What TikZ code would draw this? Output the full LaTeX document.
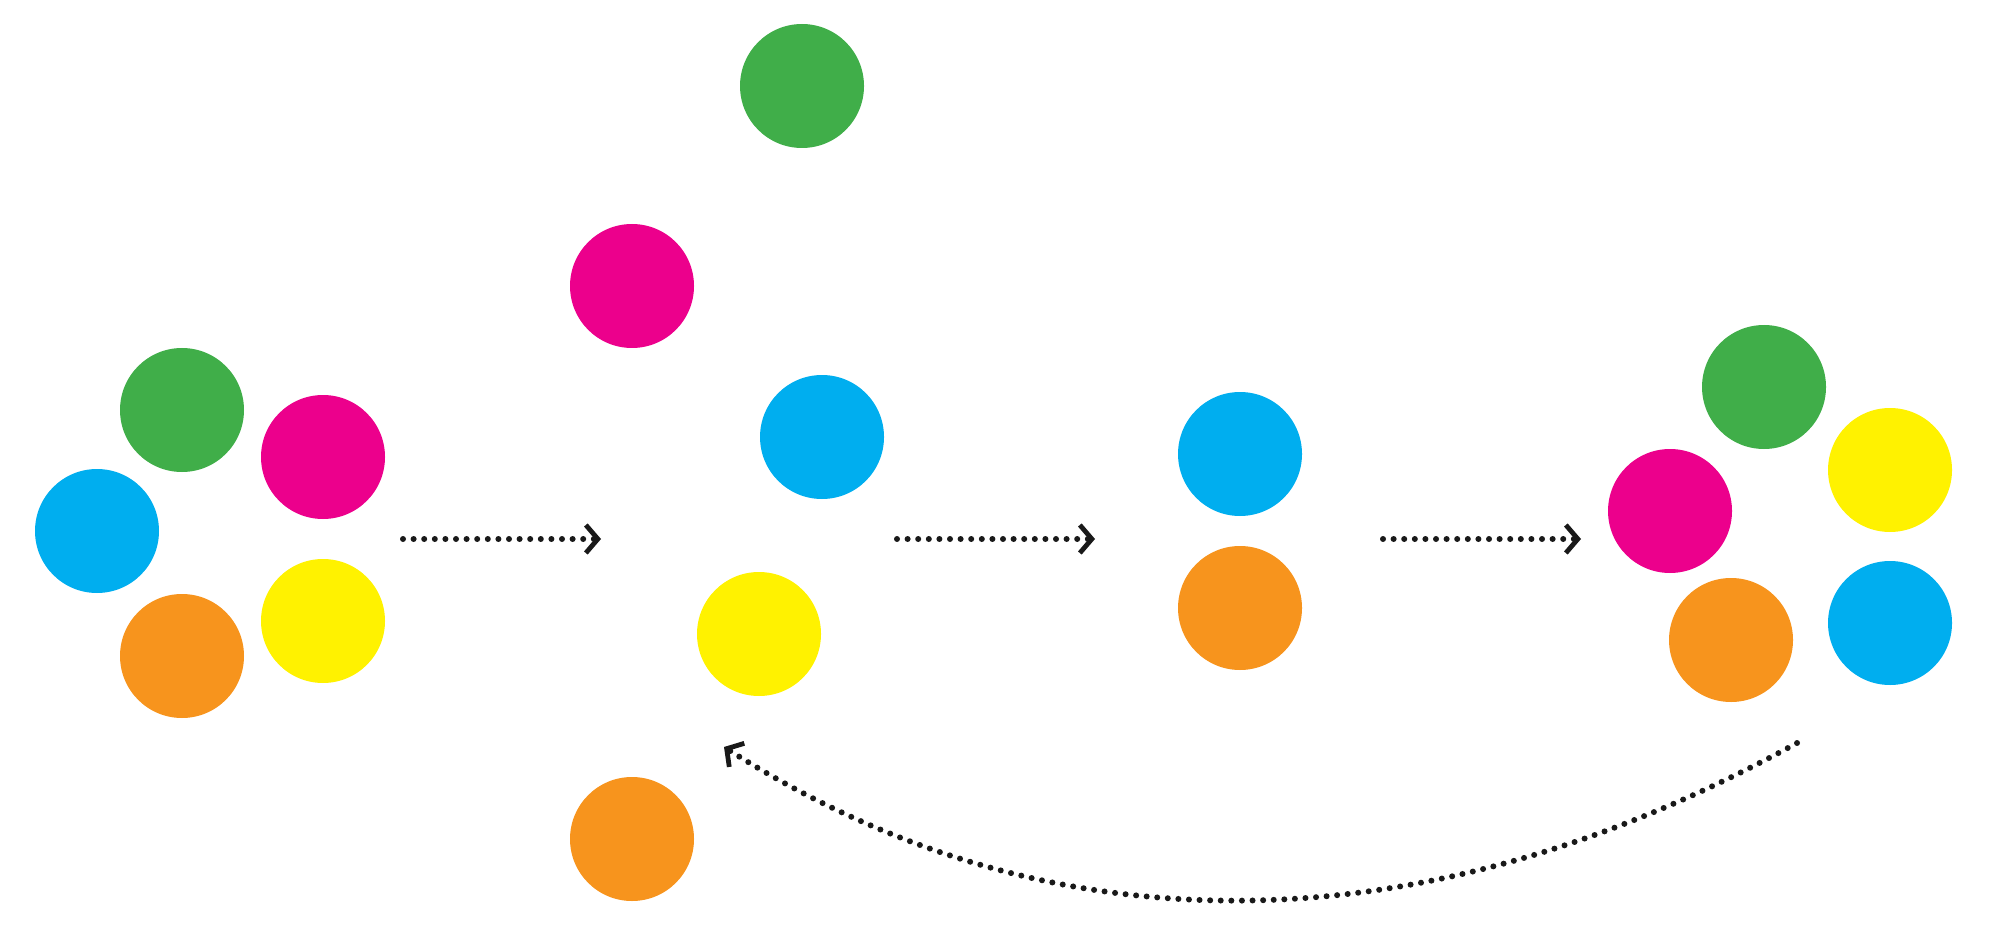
\documentclass[tikz,border=0pt]{standalone}
\usetikzlibrary{arrows.meta}
\definecolor{ballgreen}{HTML}{40AE49}
\definecolor{ballmagenta}{HTML}{EC008C}
\definecolor{ballblue}{HTML}{00AEEF}
\definecolor{ballyellow}{HTML}{FFF200}
\definecolor{ballorange}{HTML}{F7941D}

\begin{document}
\begin{tikzpicture}[x=0.5pt, y=-0.5pt, line cap=round, line join=round,
  ball/.style={circle, inner sep=0pt, minimum size=62pt, fill=#1},
  flow/.style={line width=3pt, dash pattern=on 0pt off 5.3pt, color=black!90,
    -{Straight Barb[length=6pt, width=14pt, line width=2.4pt]}}]
\useasboundingbox (0,0) rectangle (2000,930);
%========================
% Left: all five together
%========================
\node[ball=ballgreen]   (g1) at (182,410) {};
\node[ball=ballmagenta] (m1) at (323,457) {};
\node[ball=ballblue]    (b1) at (97,531)  {};
\node[ball=ballyellow]  (y1) at (323,621) {};
\node[ball=ballorange]  (o1) at (182,656) {};

%========================
% Scattered
%========================
\node[ball=ballgreen]   (g2) at (802,86)  {};
\node[ball=ballmagenta] (m2) at (632,286) {};
\node[ball=ballblue]    (b2) at (822,437) {};
\node[ball=ballyellow]  (y2) at (759,634) {};
\node[ball=ballorange]  (o2) at (632,839) {};

%========================
% Pair
%========================
\node[ball=ballblue]    (b3) at (1240,454) {};
\node[ball=ballorange]  (o3) at (1240,608) {};

%========================
% Right: regrouped
%========================
\node[ball=ballgreen]   (g4) at (1764,387) {};
\node[ball=ballyellow]  (y4) at (1890,470) {};
\node[ball=ballmagenta] (m4) at (1670,511) {};
\node[ball=ballblue]    (b4) at (1890,623) {};
\node[ball=ballorange]  (o4) at (1731,640) {};

% arrows between stages
\coordinate (a1s) at (403,539);  \coordinate (a1e) at (601,539);
\coordinate (a2s) at (897,539);  \coordinate (a2e) at (1095,539);
\coordinate (a3s) at (1383,539); \coordinate (a3e) at (1581,539);
\draw[flow] (a1s) -- (a1e);
\draw[flow] (a2s) -- (a2e);
\draw[flow] (a3s) -- (a3e);

% loop back
\coordinate (backs) at (1797,743);
\coordinate (backe) at (724,747);
\draw[flow] (backs) .. controls (1417,952) and (1046,952) .. (backe);
\end{tikzpicture}
\end{document}
